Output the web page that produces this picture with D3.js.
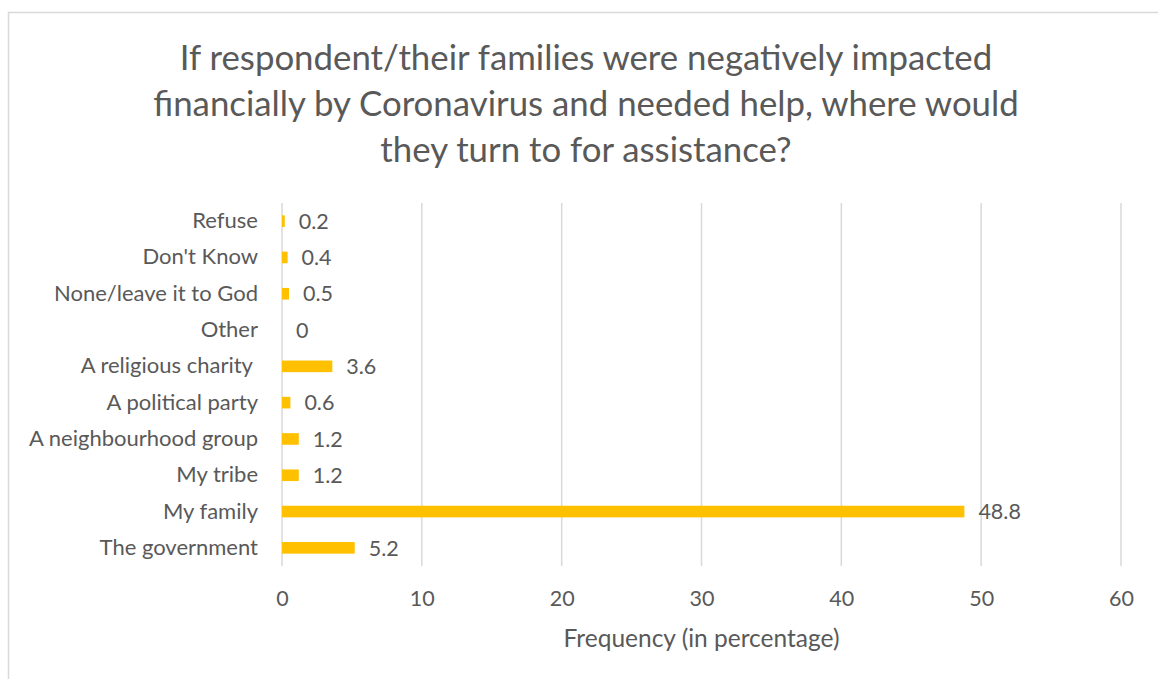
<!DOCTYPE html>
<html><head><meta charset="utf-8">
<script src="https://cdn.jsdelivr.net/npm/d3@7"></script>
<style>
html,body{margin:0;padding:0;background:#fff;}
svg{display:block;}
text{font-family:Lato,"Open Sans",sans-serif;fill:#595959;}
</style></head>
<body>
<script>
const categories = ["The government","My family","My tribe","A neighbourhood group","A political party","A religious charity ","Other","None/leave it to God","Don't Know","Refuse"];
const values = [5.2,48.8,1.2,1.2,0.6,3.6,0,0.5,0.4,0.2];
const xTicks = [0,10,20,30,40,50,60];
const titleLines = ["If respondent/their families were negatively impacted","financially by Coronavirus and needed help, where would","they turn to for assistance?"];
const axisTitle = "Frequency (in percentage)";

(function(){
const W = 1158, H = 679;
const svg = d3.select("body").append("svg").attr("width", W).attr("height", H);
svg.append("rect").attr("x", 8.5).attr("y", 12.5).attr("width", W + 10).attr("height", H + 10)
  .attr("fill", "#fff").attr("stroke", "#d9d9d9").attr("stroke-width", 1.5);

const pl = 282, pr = 1121, pt = 203, pb = 566;
const x = d3.scaleLinear().domain([0, 60]).range([pl, pr]);
const y = d3.scaleBand().domain(categories.slice().reverse()).range([pt, pb]).paddingInner(0.68).paddingOuter(0.34);

svg.append("g").selectAll("line").data(xTicks).join("line")
  .attr("x1", d => x(d)).attr("x2", d => x(d)).attr("y1", pt).attr("y2", pb)
  .attr("stroke", "#d9d9d9").attr("stroke-width", 1.5);

const xa = svg.append("g").attr("transform", `translate(0,${pb})`)
  .call(d3.axisBottom(x).tickValues(xTicks).tickSize(0).tickPadding(25).tickFormat(d3.format("d")));
xa.select(".domain").remove();
xa.selectAll("text").style("font-size", "21.5px").attr("fill", "#595959").style("font-family", "Lato");

const ya = svg.append("g").attr("transform", `translate(${pl},0)`)
  .call(d3.axisLeft(y).tickSize(0).tickPadding(24));
ya.select(".domain").remove();
ya.selectAll("text").style("font-size", "22px").style("white-space", "pre").attr("fill", "#595959").style("font-family", "Lato");

const data = categories.map((c, i) => ({c, v: values[i]}));
svg.append("g").selectAll("rect").data(data).join("rect")
  .attr("x", x(0)).attr("y", d => y(d.c)).attr("height", y.bandwidth())
  .attr("width", d => x(d.v) - x(0)).attr("fill", "#FFC000");

svg.append("g").selectAll("text").data(data).join("text")
  .attr("x", d => x(d.v) + 14).attr("y", d => y(d.c) + y.bandwidth() / 2)
  .attr("dy", "0.36em").style("font-size", "21.5px").text(d => String(d.v));

svg.append("g").selectAll("text").data(titleLines).join("text")
  .attr("x", 586).attr("y", (d, i) => 70 + i * 46).attr("text-anchor", "middle")
  .style("font-size", "34.8px").text(d => d);

svg.append("text").attr("x", (pl + pr) / 2).attr("y", 647).attr("text-anchor", "middle")
  .style("font-size", "24.5px").text(axisTitle);
})();
</script>
</body></html>
